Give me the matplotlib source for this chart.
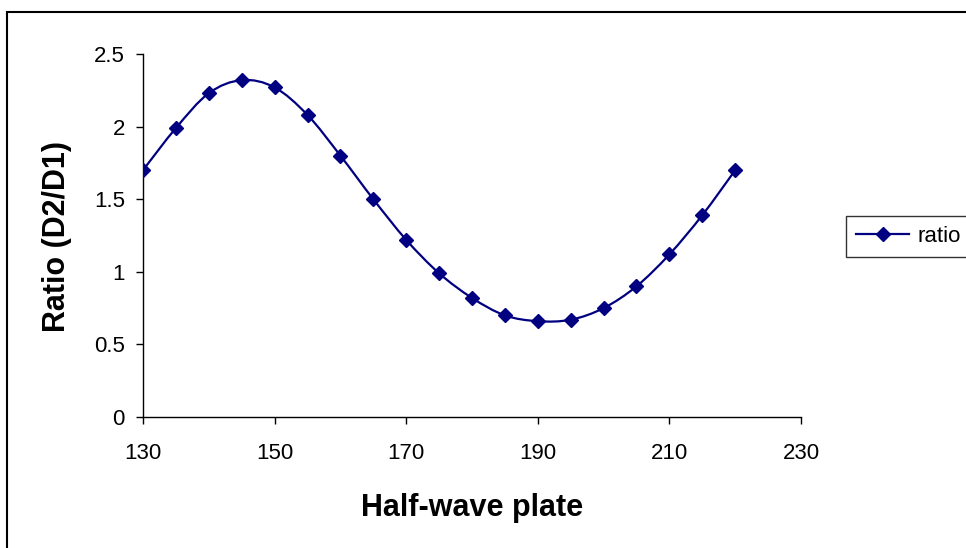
import numpy as np
import matplotlib.pyplot as plt
from matplotlib.path import Path
from matplotlib.patches import PathPatch, Rectangle
from matplotlib.lines import Line2D

plt.rcParams['font.family'] = ['Liberation Sans', 'DejaVu Sans']

# half-wave plate angle and measured ratio
angle = [130, 135, 140, 145, 150, 155, 160, 165, 170, 175,
         180, 185, 190, 195, 200, 205, 210, 215, 220]
ratio = [1.70, 1.99, 2.23, 2.32, 2.27, 2.08, 1.80, 1.50, 1.22, 0.99,
         0.82, 0.70, 0.66, 0.67, 0.75, 0.90, 1.12, 1.39, 1.70]
x_ticks = [130, 150, 170, 190, 210, 230]
y_ticks = [0, 0.5, 1, 1.5, 2, 2.5]
y_tick_labels = ['0', '0.5', '1', '1.5', '2', '2.5']

navy = '#000080'
W, H = 966, 548


def smooth_path(xs, ys):
    # excel-style smoothed line: catmull-rom as cubic bezier segments
    pts = np.column_stack([xs, ys]).astype(float)
    n = len(pts)
    verts = [pts[0]]
    codes = [Path.MOVETO]
    for i in range(n - 1):
        p0 = pts[i - 1] if i > 0 else pts[i]
        p1 = pts[i]
        p2 = pts[i + 1]
        p3 = pts[i + 2] if i + 2 < n else pts[i + 1]
        c1 = p1 + (p2 - p0) / 6.0
        c2 = p2 - (p3 - p1) / 6.0
        verts += [c1, c2, p2]
        codes += [Path.CURVE4] * 3
    return Path(verts, codes)


fig = plt.figure(figsize=(W / 100, H / 100), dpi=100)
ax = fig.add_axes([143 / W, 1 - 417 / H, (801 - 143) / W, (417 - 54) / H])

ax.add_patch(PathPatch(smooth_path(angle, ratio), facecolor='none',
                       edgecolor=navy, lw=1.6, zorder=2))
ax.plot(angle, ratio, linestyle='none', marker='D', markersize=7,
        color=navy, zorder=3)

ax.set_xlim(130, 230)
ax.set_ylim(0, 2.5)
ax.set_xticks(x_ticks)
ax.set_yticks(y_ticks)
ax.set_yticklabels(y_tick_labels)
ax.tick_params(direction='out', length=5, width=1, labelsize=16)
ax.tick_params(axis='x', pad=14)
ax.tick_params(axis='y', pad=8)
ax.spines['top'].set_visible(False)
ax.spines['right'].set_visible(False)
for s in ['left', 'bottom']:
    ax.spines[s].set_linewidth(1)

fig.text(472 / W, 1 - 508 / H, 'Half-wave plate', fontsize=22,
         fontweight='bold', ha='center', va='center')
fig.text(57 / W, 1 - 236 / H, 'Ratio (D2/D1)', fontsize=22,
         fontweight='bold', ha='center', va='center', rotation=90)

handle = Line2D([], [], color=navy, lw=1.6, marker='D', markersize=7)
fig.legend([handle], ['ratio'], loc='center left',
           bbox_to_anchor=(846 / W, 1 - 236 / H), borderaxespad=0,
           fontsize=16, frameon=True, fancybox=False, edgecolor='black',
           handlelength=2.4, borderpad=0.45, handletextpad=0.35)

# outer chart border
fig.patches.append(Rectangle((7 / W, -0.1), 1.1, 1 - 12 / H + 0.1,
                             transform=fig.transFigure, fill=False,
                             edgecolor='black', lw=1.5))

fig.savefig('out.png', dpi=100)
